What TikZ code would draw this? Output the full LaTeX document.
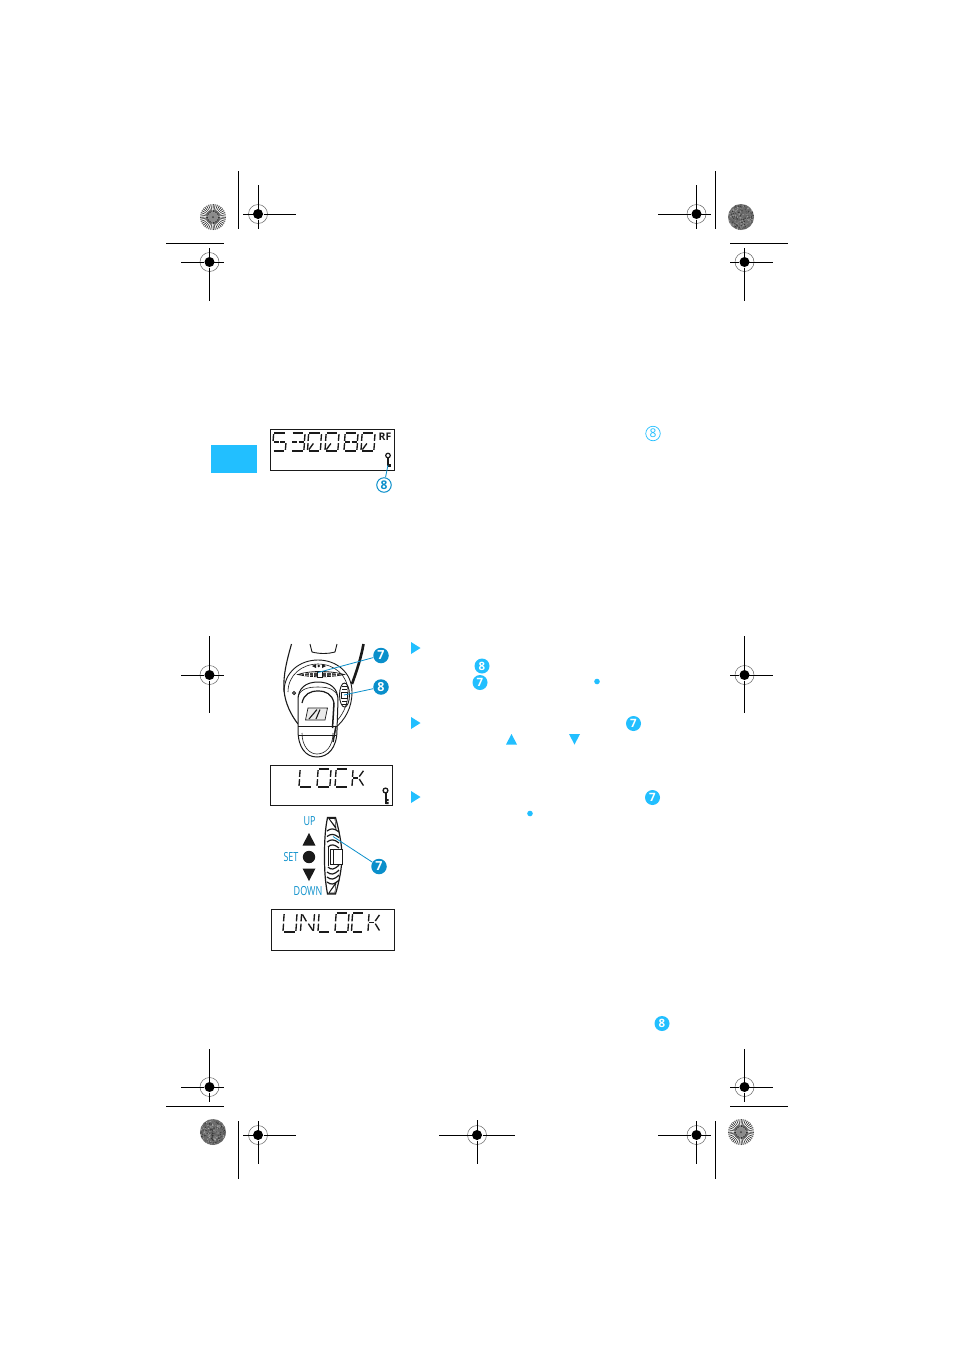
\documentclass[tikz,border=0pt]{standalone}
\usepackage{fontspec}
\setmainfont{Open Sans}
\usetikzlibrary{calc}
\definecolor{lightblue}{HTML}{22BFFF}
\definecolor{darkblue}{HTML}{0A8FCB}
\definecolor{ink}{HTML}{1A1A1A}
\tikzset{
  x=1pt,y=-1pt,
  hair/.style={line width=1pt,color=black},
  ringline/.style={line width=.5pt,color=black!60},
  lcdbox/.style={line width=1pt,color=ink},
  lcdseg/.style={draw=ink,line width=1.35pt},
  segA/.style={insert path={(.12,0)--(.88,0)}},
  segB/.style={insert path={(1,.06)--(.96,.44)}},
  segC/.style={insert path={(.96,.56)--(.92,.94)}},
  segD/.style={insert path={(.08,1)--(.84,1)}},
  segE/.style={insert path={(.04,.56)--(0,.94)}},
  segF/.style={insert path={(.08,.06)--(.04,.44)}},
  segG/.style={insert path={(.1,.5)--(.46,.5)}},
  segH/.style={insert path={(.54,.5)--(.9,.5)}},
  segI/.style={insert path={(.1,.92)--(.42,.58)}},
  segJ/.style={insert path={(.56,.42)--(.88,.1)}},
  segK/.style={insert path={(.56,.56)--(.88,.92)}},
  segP/.style={insert path={(.14,.08)--(.42,.44)}},
  callfill/.style={circle,fill=lightblue,text=white,inner sep=0pt,minimum size=15pt,font=\bfseries\fontsize{11.5}{11}\selectfont},
  calldark/.style={circle,fill=darkblue,text=white,inner sep=0pt,minimum size=15.5pt,font=\bfseries\fontsize{12.5}{11}\selectfont},
  callout/.style={circle,draw=darkblue,fill=white,text=darkblue,line width=1pt,inner sep=0pt,minimum size=14.5pt,font=\bfseries\fontsize{12}{11}\selectfont},
  outline8/.style={circle,draw=lightblue,text=lightblue,line width=.7pt,inner sep=0pt,minimum size=14.5pt,font=\fontsize{12}{11}\selectfont},
  dline/.style={draw=darkblue,line width=.8pt},
  condlabel/.style={text=darkblue,inner sep=0pt,xscale=.72,font=\fontsize{12.5}{12}\selectfont},
  rflabel/.style={text=ink,inner sep=0pt,font=\bfseries\fontsize{10.5}{10}\selectfont},
  dev/.style={draw=ink,line width=.9pt},
  devw/.style={draw=ink,fill=white,line width=1pt},
}
\newcommand\lcdch[5]{% x,y,w,h,segments
  \begin{scope}[shift={(#1,#2)},x=#3pt,y=-#4pt]
    \foreach \s in {#5} \path[lcdseg,seg\s];
  \end{scope}}
\newcommand\regmark[6]{% cx cy hl hr vt vb
  \draw[ringline] (#1,#2) circle[radius=9.5];
  \fill[black] (#1,#2) circle[radius=5];
  \draw[white,line width=.9pt] (#1-5,#2) -- (#1+5,#2) (#1,#2-5) -- (#1,#2+5);
  \draw[black,line width=1pt] (#3,#2) -- (#1-5.5,#2) (#1+5.5,#2) -- (#4,#2);
  \draw[black,line width=1pt] (#1,#5) -- (#1,#2-5.5) (#1,#2+5.5) -- (#1,#6);
  \draw[black,line width=.35pt] (#1-5,#2) -- (#1+5,#2) (#1,#2-5) -- (#1,#2+5);
}
\newcommand\raydisc[2]{%
  \fill[black!30] (#1,#2) circle[radius=13];
  \begin{scope}
    \clip (#1,#2) circle[radius=13];
    \foreach \a in {0,10,...,350} \draw[black!80,line width=.7pt] ($(#1,#2)+(\a:5)$) -- ++(\a:9);
    \foreach \a in {5,15,...,355} \draw[white,line width=.6pt] ($(#1,#2)+(\a:7)$) -- ++(\a:7);
    \fill[black!45] (#1,#2) circle[radius=5];
    \fill[black!75] (#1,#2) circle[radius=1];
  \end{scope}}
\newcommand\noisedisc[3]{%
  \pgfmathsetseed{#3}
  \fill[black!58] (#1,#2) circle[radius=13];
  \foreach \i in {1,...,300}{
    \pgfmathsetmacro\ang{360*rnd}
    \pgfmathsetmacro\rad{12.4*sqrt(rnd)}
    \pgfmathsetmacro\lev{30+55*rnd}
    \fill[black!\lev] ($(#1,#2)+(\ang:\rad)$) circle[radius=.65];
  }}
\begin{document}
\begin{tikzpicture}
\useasboundingbox (0,0) rectangle (954,1350);
\fill[white] (0,0) rectangle (954,1350);

% registration marks
\regmark{258}{214}{243}{296}{185}{229}
\regmark{209.5}{262}{181}{224}{248}{301}
\regmark{696.5}{214}{658}{711}{185}{229}
\regmark{744.5}{262}{730}{773}{248}{301}
\regmark{209.5}{675}{181}{224}{636}{713}
\regmark{744.5}{675}{730}{773}{636}{713}
\regmark{209.5}{1087}{181}{224}{1049}{1102}
\regmark{744.5}{1087}{730}{773}{1049}{1102}
\regmark{258}{1135}{243}{296}{1121}{1164}
\regmark{696.5}{1135}{658}{711}{1121}{1164}
\regmark{477}{1135}{439}{515}{1120}{1164}
\draw[hair] (238,171) -- (238,229) (166,243) -- (224,243);
\draw[hair] (715,171) -- (715,229) (730,243) -- (788,243);
\draw[hair] (166,1106) -- (224,1106) (238,1121) -- (238,1179);
\draw[hair] (730,1106) -- (788,1106) (715,1121) -- (715,1179);
\raydisc{213}{217}
\raydisc{741}{1132}
\noisedisc{741}{217}{11}
\noisedisc{213}{1132}{23}

% blue tab
\fill[lightblue] (211,445) rectangle (257,473);

% first display
\draw[lcdbox] (270.5,429.5) rectangle (394.5,470.5);
\lcdch{272.5}{433}{14}{18}{A,F,G,H,C,D}
\lcdch{291}{433}{14}{18}{A,B,G,H,C,D}
\lcdch{307.5}{433}{14}{18}{A,B,C,D,E,F,I}
\lcdch{325}{433}{14}{18}{A,B,C,D,E,F,I}
\lcdch{344}{433}{14}{18}{A,B,C,D,E,F,G,H}
\lcdch{361}{433}{14}{18}{A,B,C,D,E,F,I}
\node[rflabel] (rf) at (385,436.5) {RF};
\draw[ink,line width=1.2pt] (388,455.5) circle[radius=2.3];
\draw[ink,line width=1.3pt] (388,458) -- (388,466);
\fill[ink] (387.5,463.5) rectangle (391,467);
\node[callout] (c8top) at (384,485) {8};
\coordinate (k8) at (388,465);
\draw[dline] (c8top) -- (k8);
\node[outline8] (o8) at (653,433.5) {8};

% device
\draw[dev,line width=1.1pt] (291.5,644) .. controls (287,660) and (283,675) .. (284,690) .. controls (285,703) and (291,715) .. (298,724);
\draw[ink,line width=2.6pt] (363.5,644) .. controls (361,658) and (357,670) .. (352,684);
\draw[dev] (310,644) -- (312,652) .. controls (320,654) and (328,654) .. (335,652) -- (337,644);
\draw[dev] (284,692) .. controls (284,672) and (300,660) .. (318,660) .. controls (336,660) and (352,672) .. (352,692) .. controls (352,708) and (345,720) .. (335,728);
\draw[dev,line width=.6pt] (288,692) .. controls (288,675) and (302,664) .. (318,664) .. controls (334,664) and (348,675) .. (348,692) .. controls (348,706) and (342,716) .. (334,724);
% wheel
\draw[devw,line width=.8pt] (298,674.5) .. controls (310,670.5) and (330,670.5) .. (344,674.5) .. controls (330,677.5) and (310,677.5) .. (298,674.5) -- cycle;
\fill[black!75] (301,674.5) .. controls (310,672) and (330,672) .. (341,674.5) .. controls (330,676.5) and (310,676.5) .. (301,674.5) -- cycle;
\draw[white,line width=.5pt] (304,673) -- (304,676) (309,672.5) -- (309,676.5) (313,672.5) -- (313,676.5) (326,672.5) -- (326,676.5) (331,672.5) -- (331,676.5) (336,673) -- (336,676);
\fill[white,draw=ink,line width=.6pt] (317,671) rectangle (322,677.5);
\fill[ink] (312,666) -- (316,664) -- (316,668) -- cycle;
\fill[ink] (318.8,666) circle[radius=1.4];
\fill[ink] (326,666) -- (322,664) -- (322,668) -- cycle;
% small dot and side switch
\draw[dev] (294,693) circle[radius=1.6];
\draw[dev] (344.5,695) ellipse[x radius=5,y radius=12];
\fill[white,draw=ink,line width=.8pt] (341.5,692) rectangle (347,698);
\draw[ink,line width=.8pt] (342,686) -- (347,686) (342,689) -- (347,689) (342,701) -- (347,701) (342,704) -- (347,704);
% pack
\draw[devw] (298,700) .. controls (298,688) and (306,682) .. (318,682) .. controls (330,682) and (338,688) .. (338,700) -- (337,730) .. controls (337,748) and (328,757) .. (317,757) .. controls (306,757) and (298,748) .. (298,730) -- cycle;
\draw[dev,line width=1.2pt] (302,703) .. controls (304,694) and (310,691) .. (318,691) .. controls (326,691) and (332,694) .. (334,703);
\draw[dev,line width=.6pt] (298,697) .. controls (300,689) and (308,687) .. (318,687) .. controls (330,687) and (336,690) .. (338,697);
\draw[dev,line width=1pt] (298,726.5) -- (337,726.5);
\draw[dev,line width=.5pt] (298,735) -- (337,735);
\draw[dev,line width=.6pt] (302,733) .. controls (302,746) and (309,754) .. (317,754) .. controls (326,754) and (333,746) .. (333,733);
\draw[ink,line width=1.5pt] (334,703) -- (332.5,728) (336,726) -- (333,742);
% logo
\draw[dev,fill=black!8,line width=.7pt] (308,708) -- (327.5,708) -- (325,720) -- (305.5,720) -- cycle;
\draw[ink,line width=1.1pt] (309,719) -- (317,709.5) (316,719) -- (320,709.5);
% callouts on device
\node[calldark] (c7a) at (381,655.5) {7};
\node[calldark] (c8a) at (381,687) {8};
\coordinate (p7a) at (318,672.5);
\coordinate (p8a) at (344,695);
\draw[dline] (c7a) -- (p7a);
\draw[dline] (c8a) -- (p8a);

% LOCK display
\draw[lcdbox] (270,765.5) rectangle (392,805.5);
\lcdch{299}{769}{14}{18}{F,E,D}
\lcdch{317}{769}{14}{18}{A,B,C,D,E,F}
\lcdch{335}{769}{14}{18}{A,F,E,D}
\lcdch{352}{769}{13}{18}{F,E,G,J,K}
\draw[ink,line width=1.3pt] (385.5,790.5) circle[radius=2.4];
\draw[ink,line width=2pt] (385.5,793) -- (385.5,804);
\fill[ink] (385.5,799) rectangle (388.5,801) (385.5,802) rectangle (388.5,804);

% wheel side view
\draw[devw,line width=1.2pt] (327.5,817.5) -- (335.5,817.5) .. controls (339,830) and (342,845) .. (342,856) .. controls (342,868) and (339,882) .. (335.5,894) -- (327.5,894) .. controls (325,880) and (324.5,870) .. (324.5,856) .. controls (324.5,842) and (325,830) .. (327.5,817.5) -- cycle;
\fill[ink] (328,818) -- (335,818) -- (336.5,830) -- cycle;
\fill[white] (330,819) -- (334.5,819) -- (335.5,826) -- cycle;
\fill[ink] (328,893.5) -- (335,893.5) -- (336.5,881) -- cycle;
\fill[white] (330,892.5) -- (334.5,892.5) -- (335.5,885) -- cycle;
\foreach \yy/\xa in {829/327,834.5/327,840/327,845/328}{\draw[ink,line width=1.2pt] (\xa,\yy+2) .. controls (331,\yy-1) and (334,\yy-1) .. (339,\yy+3);}
\foreach \yy/\xa in {868/328,873/327,878/327,883/327}{\draw[ink,line width=1.2pt] (\xa,\yy-1) .. controls (331,\yy+2) and (334,\yy+2) .. (339,\yy-3);}
\draw[ink,line width=1pt] (328,847) -- (328,866);
\draw[devw,line width=1pt] (330,849) rectangle (342,864);
\draw[ink,line width=.8pt] (333,849) -- (333,864);
\fill[ink] (309,833) -- (315.5,845.5) -- (302.5,845.5) -- cycle;
\fill[ink] (309,857) circle[radius=6.2];
\fill[ink] (302.5,868.5) -- (315.5,868.5) -- (309,881) -- cycle;
\node[condlabel] (lup) at (309.5,821.5) {UP};
\node[condlabel] (lset) at (291,857) {SET};
\node[condlabel] (ldown) at (308,891.5) {DOWN};
\node[calldark] (c7b) at (379,866.5) {7};
\coordinate (p7b) at (333,836.5);
\draw[dline] (c7b) -- (p7b);

% UNLOCK display
\draw[lcdbox] (271.5,909.5) rectangle (394.5,950.5);
\lcdch{283}{913}{14}{19}{F,E,D,B,C}
\lcdch{300.5}{913}{14}{19}{F,E,B,C,P,K}
\lcdch{318}{913}{13}{19}{F,E,D}
\lcdch{335}{913}{14}{19}{A,B,C,D,E,F}
\lcdch{351.5}{913}{13}{19}{A,F,E,D}
\lcdch{368}{913}{13}{19}{F,E,G,J,K}

% text-column symbols
\fill[lightblue] (411,642) -- (420.5,648) -- (411,654) -- cycle;
\fill[lightblue] (411,717) -- (420.5,723) -- (411,729) -- cycle;
\fill[lightblue] (411,791) -- (420.5,797) -- (411,803) -- cycle;
\node[callfill] (t8a) at (482,666) {8};
\node[callfill] (t7a) at (480,682.5) {7};
\node[callfill] (t7b) at (633.5,723.5) {7};
\node[callfill] (t7c) at (652.5,797.5) {7};
\node[callfill] (t8b) at (662,1023.5) {8};
\fill[lightblue] (597,681.5) circle[radius=2.8];
\fill[lightblue] (530,813.5) circle[radius=2.8];
\fill[lightblue] (511.5,734) -- (517,744.5) -- (506,744.5) -- cycle;
\fill[lightblue] (569,734) -- (580,734) -- (574.5,744.5) -- cycle;
\end{tikzpicture}
\end{document}
